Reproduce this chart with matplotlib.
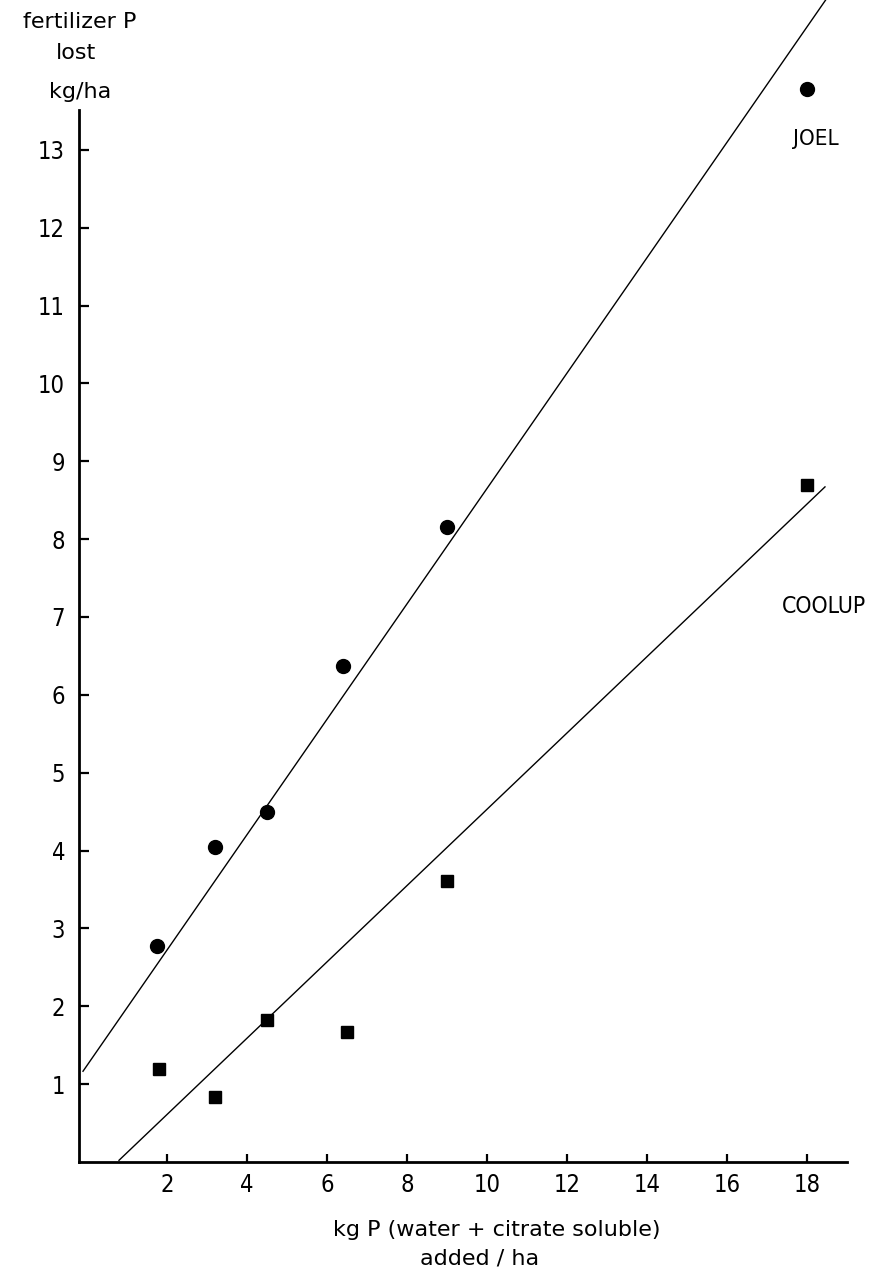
import numpy as np
import matplotlib.pyplot as plt

# Data
joel_x = [1.75, 3.2, 4.5, 6.4, 9.0, 18.0]
joel_y = [2.77, 4.05, 4.5, 6.37, 8.16, 13.78]
coolup_x = [1.8, 3.2, 4.5, 6.5, 9.0, 18.0]
coolup_y = [1.19, 0.83, 1.82, 1.67, 3.61, 8.70]

# Fitted lines as drawn (intercept, slope, x range)
joel_fit = (1.24, 0.741, -0.1, 18.65)
coolup_fit = (-0.37, 0.49, 0.8, 18.45)

xticks = [2, 4, 6, 8, 10, 12, 14, 16, 18]
yticks = list(range(1, 14))

plt.rcParams['font.family'] = ['DejaVu Sans']
plt.rcParams['font.stretch'] = 'condensed'

fig = plt.figure(figsize=(8.73, 12.74), dpi=100)
ax = fig.add_axes([0.0905, 0.0879, 0.8797, 0.8257])

# Regression lines
for b, m, x0, x1 in (joel_fit, coolup_fit):
    xs = np.array([x0, x1])
    ax.plot(xs, b + m * xs, color='black', lw=1.0, clip_on=False)

ax.plot(joel_x, joel_y, 'o', color='black', ms=10, clip_on=False)
ax.plot(coolup_x, coolup_y, 's', color='black', ms=8.5, clip_on=False)

ax.text(17.65, 13.14, 'JOEL', fontsize=16, va='center', ha='left')
ax.text(17.375, 7.13, 'COOLUP', fontsize=16.5, va='center', ha='left')

ax.set_xlim(-0.2, 19.0)
ax.set_ylim(0, 13.51)
ax.set_xticks(xticks)
ax.set_yticks(yticks)
ax.tick_params(axis='both', direction='in', width=1.6, labelsize=17)
ax.tick_params(axis='y', length=7, pad=10)
ax.tick_params(axis='x', length=6, pad=8)

for s in ('top', 'right'):
    ax.spines[s].set_visible(False)
for s in ('left', 'bottom'):
    ax.spines[s].set_linewidth(2.0)

# Axis titles
fig.text(497 / 873, 1 - 1230 / 1274, 'kg P (water + citrate soluble)', fontsize=16,
         ha='center', va='center', fontstretch='normal')
fig.text(480 / 873, 1 - 1258 / 1274, 'added / ha', fontsize=16,
         ha='center', va='center', fontstretch='normal')
fig.text(80 / 873, 1 - 22 / 1274, 'fertilizer P', fontsize=16, ha='center', va='center',
         fontstretch='normal')
fig.text(76 / 873, 1 - 53 / 1274, 'lost', fontsize=16, ha='center', va='center',
         fontstretch='normal')
fig.text(80 / 873, 1 - 92 / 1274, 'kg/ha', fontsize=16, ha='center', va='center',
         fontstretch='normal')

fig.savefig('out.png', dpi=100)
